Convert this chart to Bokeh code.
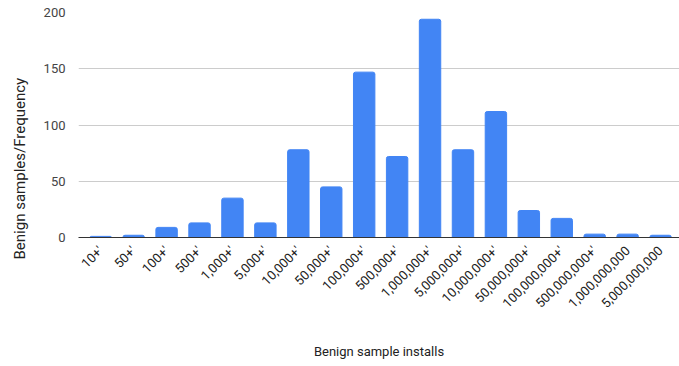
import math
from bokeh.plotting import figure
from bokeh.models import Range1d, FixedTicker, ColumnDataSource, Title
from bokeh.embed import file_html
from bokeh.resources import INLINE

# Install buckets and how many benign samples fall in each
categories = ["10+'", "50+'", "100+'", "500+'", "1,000+'", "5,000+'", "10,000+'",
              "50,000+'", "100,000+'", "500,000+'", "1,000,000+'", "5,000,000+'",
              "10,000,000+'", "50,000,000+'", "100,000,000+'", "500,000,000+'",
              "1,000,000,000", "5,000,000,000"]
frequency = [1, 2, 9, 13, 35, 13, 78, 45, 147, 72, 194, 78, 112, 24, 17, 3, 3, 2]
y_ticks = [0, 50, 100, 150, 200]

positions = list(range(len(categories)))
source = ColumnDataSource(data=dict(x=positions, top=frequency, name=categories))

FONT = "Roboto"

p = figure(width=679, height=366, output_backend="svg", toolbar_location=None,
           x_range=Range1d(-0.675, 17.575), y_range=Range1d(0, 200),
           min_border_left=76, min_border_right=0, min_border_top=12,
           min_border_bottom=129)
p.outline_line_color = None
p.background_fill_color = "white"
p.border_fill_color = "white"

p.vbar(x="x", top="top", width=0.65, source=source, color="#4285f4",
       border_radius=(2, 2, 0, 0))

# y axis
p.yaxis.ticker = FixedTicker(ticks=y_ticks)
p.yaxis.axis_line_color = None
p.yaxis.major_tick_line_color = None
p.yaxis.minor_tick_line_color = None
p.yaxis.major_label_standoff = 7
p.yaxis.major_label_text_font = FONT
p.yaxis.major_label_text_font_size = "13px"
p.yaxis.major_label_text_color = "#444444"

# y title as a side title, anchored below the frame bottom
y_title = Title(text="Benign samples/Frequency", align="left", offset=-22,
                vertical_align="top", standoff=20, text_font=FONT,
                text_font_size="15px", text_font_style="normal",
                text_color="#222222")
p.add_layout(y_title, "left")

# x axis
p.xaxis.ticker = FixedTicker(ticks=positions)
p.xaxis.major_label_overrides = {i: c for i, c in zip(positions, categories)}
p.xaxis.major_label_orientation = math.pi / 4
p.xaxis.axis_line_color = "#333333"
p.xaxis.major_tick_line_color = None
p.xaxis.minor_tick_line_color = None
p.xaxis.major_label_standoff = 5
p.xaxis.major_label_text_font = FONT
p.xaxis.major_label_text_font_size = "13px"
p.xaxis.major_label_text_color = "#222222"
p.xaxis.axis_label = "Benign sample installs"
p.xaxis.axis_label_text_font = FONT
p.xaxis.axis_label_text_font_size = "13px"
p.xaxis.axis_label_text_font_style = "normal"
p.xaxis.axis_label_text_color = "#222222"
p.xaxis.axis_label_standoff = 25

p.xgrid.grid_line_color = None
p.ygrid.grid_line_color = "#cccccc"

open("out.html", "w").write(file_html(p, INLINE))
